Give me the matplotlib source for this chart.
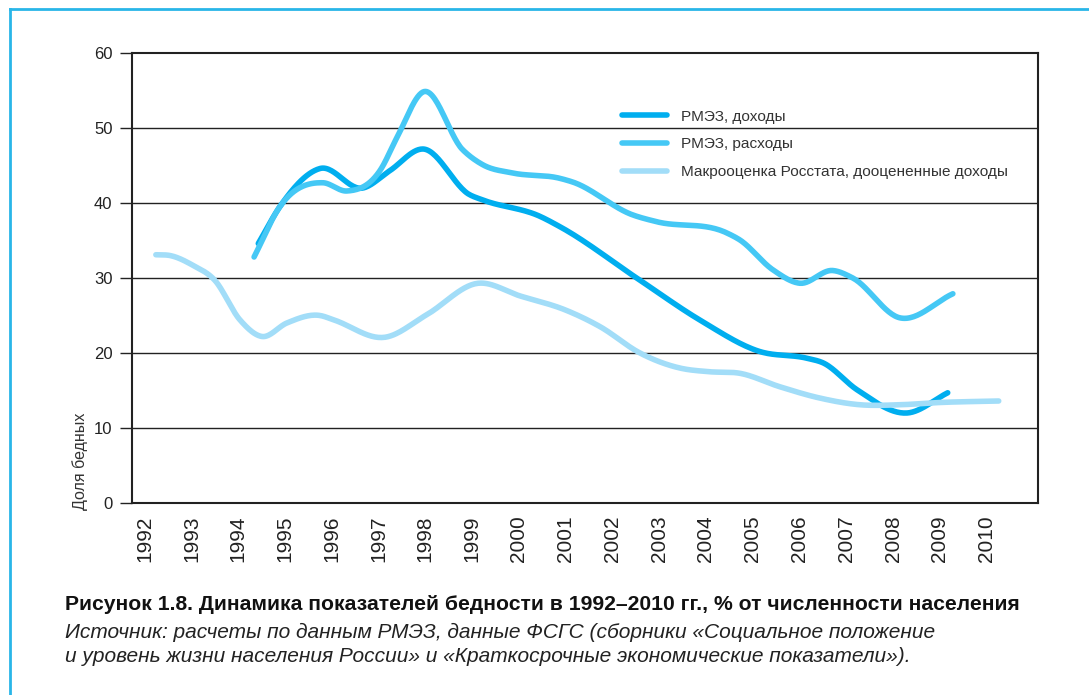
import numpy as np
import matplotlib
matplotlib.use("Agg")
import matplotlib.pyplot as plt
from matplotlib.lines import Line2D

plt.rcParams['font.family'] = ['Liberation Sans', 'DejaVu Sans']

# points (year, share of poor, %)
income_x = [1994.43, 1994.89, 1995.75, 1996.67, 1997.24, 1997.95, 1998.95, 1999.23,
            2000.46, 2000.89, 2002.59, 2003.87, 2005.15, 2006.16, 2006.50, 2007.23,
            2008.30, 2009.17]
income_y = [34.6, 39.5, 44.6, 42.0, 44.3, 47.2, 41.1, 40.4,
            38.2, 36.8, 29.7, 24.4, 20.2, 19.3, 18.7, 15.1,
            12.0, 14.7]

spend_x = [1994.34, 1994.89, 1995.81, 1996.32, 1997.04, 1997.40, 1997.95, 1998.80,
           1999.23, 1999.87, 2000.87, 2001.15, 2002.44, 2002.95, 2004.45, 2004.72,
           2005.43, 2006.01, 2006.71, 2007.14, 2008.14, 2009.28]
spend_y = [32.8, 39.5, 42.7, 41.6, 44.4, 48.8, 54.8, 47.1,
           45.1, 44.0, 43.3, 42.8, 38.4, 37.5, 36.0, 35.1,
           31.1, 29.3, 31.0, 30.0, 24.7, 27.9]

macro_x = [1992.24, 1992.54, 1993.03, 1993.50, 1994.04, 1994.51, 1995.04, 1995.75,
           1996.05, 1997.14, 1998.03, 1999.13, 2000.03, 2001.01, 2001.74, 2002.59,
           2003.44, 2004.08, 2004.72, 2005.58, 2006.43, 2007.29, 2008.15, 2009.00,
           2010.26]
macro_y = [33.1, 33.0, 31.7, 29.7, 24.4, 22.2, 24.0, 25.0,
           24.4, 22.1, 25.1, 29.3, 27.6, 25.7, 23.5, 20.0,
           18.0, 17.5, 17.3, 15.5, 14.0, 13.1, 13.1, 13.4,
           13.6]

labels = ['РМЭЗ, доходы', 'РМЭЗ, расходы', 'Макрооценка Росстата, дооцененные доходы']
colors = ['#00aeef', '#45c8f5', '#a2ddf8']
years = list(range(1992, 2011))
yticks = [0, 10, 20, 30, 40, 50, 60]


def smooth(xs, ys, n=30):
    # cubic hermite through the points (three-point slopes), only for drawing
    x = np.asarray(xs, float)
    y = np.asarray(ys, float)
    h = np.diff(x)
    d = np.diff(y) / h
    m = np.empty_like(y)
    m[0], m[-1] = d[0], d[-1]
    m[1:-1] = (d[1:] * h[:-1] + d[:-1] * h[1:]) / (h[:-1] + h[1:])
    sx, sy = [], []
    t = np.linspace(0, 1, n, endpoint=False)
    for i in range(len(x) - 1):
        h00 = 2 * t ** 3 - 3 * t ** 2 + 1
        h10 = t ** 3 - 2 * t ** 2 + t
        h01 = -2 * t ** 3 + 3 * t ** 2
        h11 = t ** 3 - t ** 2
        sx.append(x[i] + t * h[i])
        sy.append(h00 * y[i] + h10 * h[i] * m[i] + h01 * y[i + 1] + h11 * h[i] * m[i + 1])
    sx.append([x[-1]])
    sy.append([y[-1]])
    return np.concatenate(sx), np.concatenate(sy)


fig = plt.figure(figsize=(10.89, 6.95), dpi=100)
fig.patch.set_facecolor('white')

# blue frame around the figure (top and left edges visible)
fig.add_artist(Line2D([10 / 1089, 1.01], [1 - 9 / 695, 1 - 9 / 695], color='#29b6e8', lw=2))
fig.add_artist(Line2D([10 / 1089, 10 / 1089], [-0.01, 1 - 9 / 695], color='#29b6e8', lw=2))

ax = fig.add_axes([132 / 1089, 1 - 503 / 695, 906 / 1089, 450 / 695])

for xs, ys, c, lab in zip([income_x, spend_x, macro_x], [income_y, spend_y, macro_y], colors, labels):
    sx, sy = smooth(xs, ys)
    ax.plot(sx, sy, color=c, lw=4.0, solid_capstyle='round', label=lab, zorder=3)

for v in yticks[1:-1]:
    ax.axhline(v, color='#222222', lw=1.0, zorder=1)

ax.set_xlim(1991.73, 2011.10)
ax.set_ylim(0, 60)
ax.set_yticks(yticks)
ax.set_xticks(years)
ax.set_xticklabels([str(y) for y in years], rotation=90, fontsize=15, color='#222222')
ax.tick_params(axis='x', length=0, pad=9)
ax.tick_params(axis='y', length=9, width=1.0, direction='out', labelsize=12, colors='#222222', pad=5)
for s in ax.spines.values():
    s.set_linewidth(1.5)
    s.set_color('#222222')

ax.set_ylabel('Доля бедных', fontsize=11.5, color='#333333', y=0.093, labelpad=4)

leg = ax.legend(loc='upper left', bbox_to_anchor=(0.534, 0.888), frameon=False, fontsize=11.1,
                handlelength=2.9, handletextpad=0.95, labelspacing=0.9, borderaxespad=0)
for t in leg.get_texts():
    t.set_color('#333333')

fig.text(65 / 1089, 1 - 605 / 695, 'Рисунок 1.8. Динамика показателей бедности в 1992–2010 гг., % от численности населения',
         fontsize=15.2, fontweight='bold', va='center', color='#111111')
fig.text(65 / 1089, 1 - 632 / 695, 'Источник: расчеты по данным РМЭЗ, данные ФСГС (сборники «Социальное положение',
         fontsize=15, style='italic', va='center', color='#222222')
fig.text(65 / 1089, 1 - 657 / 695, 'и уровень жизни населения России» и «Краткосрочные экономические показатели»).',
         fontsize=15, style='italic', va='center', color='#222222')

fig.savefig('out.png', dpi=100)
